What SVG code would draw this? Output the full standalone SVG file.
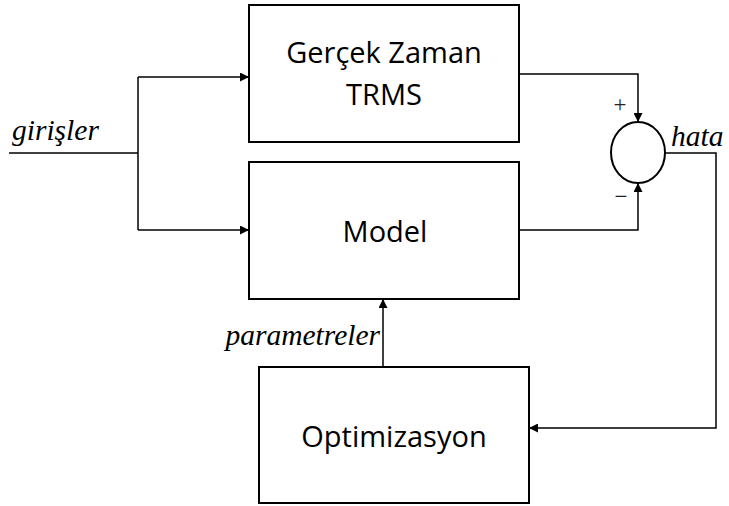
<svg xmlns="http://www.w3.org/2000/svg" width="729" height="506" viewBox="0 0 729 506">
  <style>
    .box { fill: #fff; stroke: #000; stroke-width: 2; }
    .wire { fill: none; stroke: #000; stroke-width: 1.5; }
    .label { font-family: "Open Sans", "Liberation Sans", sans-serif; font-size: 29px; fill: #000; text-anchor: middle; }
    .sig { font-family: "Liberation Serif", "Times New Roman", serif; font-style: italic; font-size: 29.5px; fill: #000; }
    .sign { font-family: "Liberation Serif", "Times New Roman", serif; font-size: 23px; fill: #222; text-anchor: middle; }
  </style>
  <defs>
    <marker id="arrow" viewBox="0 0 10 10" refX="10" refY="5" markerWidth="9" markerHeight="9" markerUnits="userSpaceOnUse" orient="auto">
      <path d="M0,0 L10,5 L0,10 Z" fill="#000"/>
    </marker>
  </defs>

  <rect width="729" height="506" fill="#fff"/>

  <!-- blocks -->
  <g id="plant">
    <rect class="box" x="249" y="5" width="270" height="137"/>
    <text class="label" x="384" y="63">Gerçek Zaman</text>
    <text class="label" x="384" y="105">TRMS</text>
  </g>
  <g id="model">
    <rect class="box" x="249" y="162" width="270" height="137"/>
    <text class="label" x="385" y="242">Model</text>
  </g>
  <g id="optimizer">
    <rect class="box" x="259" y="367" width="270" height="136"/>
    <text class="label" x="394" y="447">Optimizasyon</text>
  </g>
  <g id="sum">
    <ellipse class="box" cx="638" cy="152.5" rx="27" ry="30.5" stroke-width="1.5"/>
    <text class="sign" x="620" y="112">+</text>
    <text class="sign" x="621" y="204">−</text>
  </g>

  <!-- signal paths -->
  <g id="connectors">
    <path class="wire" d="M9,153 H138"/>
    <path class="wire" d="M138,77 V230"/>
    <path class="wire" d="M138,77 H249" marker-end="url(#arrow)"/>
    <path class="wire" d="M138,230 H249" marker-end="url(#arrow)"/>
    <path class="wire" d="M519,74 H638 V122" marker-end="url(#arrow)"/>
    <path class="wire" d="M519,230 H638 V183" marker-end="url(#arrow)"/>
    <path class="wire" d="M665,153 H716 V428 H529" marker-end="url(#arrow)"/>
    <path class="wire" d="M383,367 V299" marker-end="url(#arrow)"/>
  </g>

  <!-- signal names -->
  <g id="signal-labels">
    <text class="sig" x="12" y="140">girişler</text>
    <text class="sig" x="671" y="146">hata</text>
    <text class="sig" x="380" y="345" text-anchor="end">parametreler</text>
  </g>
</svg>
